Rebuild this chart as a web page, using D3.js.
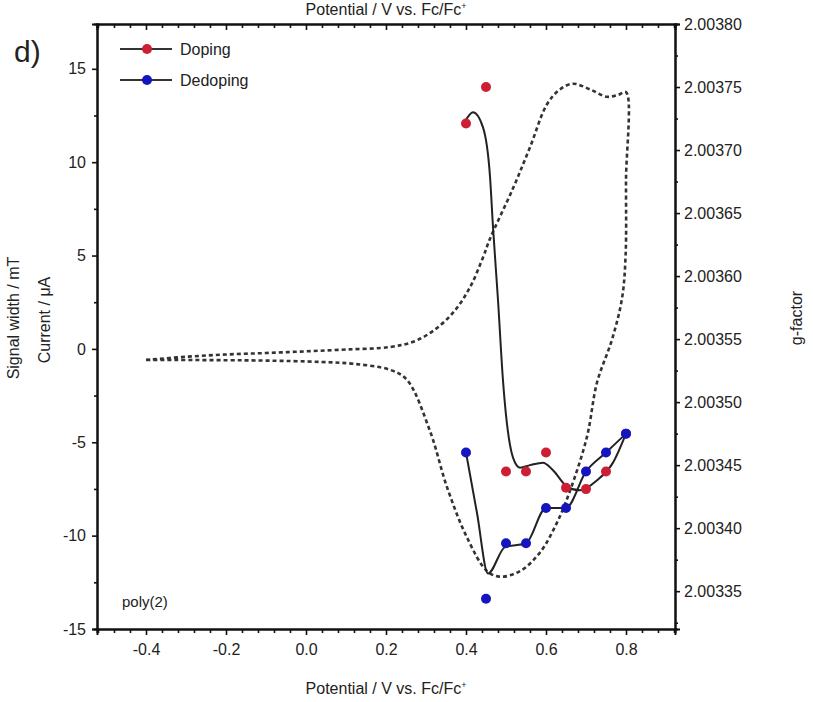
<!DOCTYPE html>
<html><head><meta charset="utf-8">
<script src="https://cdn.jsdelivr.net/npm/d3@7"></script>
<style>
body{margin:0;background:#fff;}
text{font-family:"Liberation Sans",Arial,sans-serif;fill:#222;}
</style></head>
<body><svg id="c" width="813" height="702"></svg>
<script>
// ---- data ----
const potentials = [0.40,0.45,0.50,0.55,0.60,0.65,0.70,0.75,0.80];
const dopingG   = [2.003721,2.003750,2.003445,2.003445,2.003460,2.003432,2.003431,2.003445,2.003475];
const dedopingG = [2.003460,2.003344,2.003388,2.003388,2.003416,2.003416,2.003445,2.003460,2.003475];
// smoothed guide lines
const dopingFitX = [0.40,0.4175,0.4425,0.46,0.4675,0.48,0.4925,0.5175,0.535,0.56,0.5925,0.6175,0.6525,0.685,0.7275,0.7675,0.80];
const dopingFitG = [2.003724,2.003730,2.003718,2.003679,2.003639,2.003581,2.003517,2.003456,2.003448,2.003450,2.003452,2.003446,2.003433,2.003430,2.003438,2.003452,2.003475];
const dedopingFitX = [0.40,0.4275,0.455,0.4975,0.55,0.60,0.65,0.70,0.75,0.80];
const dedopingFitG = [2.003460,2.003412,2.003364,2.003385,2.003388,2.003416,2.003416,2.003445,2.003460,2.003475];
// cyclic voltammogram (current / uA)
const cvPotential = [-0.40,-0.30,-0.20,-0.10,0.00,0.10,0.21,0.27,0.32,0.37,0.41,0.4425,0.46,0.5175,0.56,0.6025,0.635,0.6675,0.71,0.7525,0.78,0.80,
                     0.80,0.799,0.79,0.765,0.7275,0.7025,0.66,0.6275,0.585,0.535,0.485,0.4525,0.4025,0.3525,0.31,0.2525,0.21,0.12,0.04,-0.12,-0.40];
const cvCurrent   = [-0.59,-0.42,-0.30,-0.22,-0.13,-0.03,0.10,0.40,1.0,2.0,3.3,4.9,5.9,8.6,10.8,13.1,13.9,14.2,13.9,13.5,13.6,13.75,
                     9.0,5.0,2.7,0.5,-1.8,-4.7,-7.6,-9.3,-10.9,-11.9,-12.2,-11.9,-10.1,-7.4,-4.4,-1.66,-1.12,-0.8,-0.7,-0.62,-0.59];
const xTicks = [-0.4,-0.2,0.0,0.2,0.4,0.6,0.8];
const yTicks = [-15,-10,-5,0,5,10,15];
const gTicks = [2.00335,2.00340,2.00345,2.00350,2.00355,2.00360,2.00365,2.00370,2.00375,2.00380];

// ---- layout ----
const L=97,R=675,T=24,B=629;
const svg=d3.select("#c");
const x=d3.scaleLinear().domain([-0.5225,0.9225]).range([L,R]);
const y=d3.scaleLinear().domain([-15,17.4]).range([B,T]);
const g=d3.scaleLinear().domain([2.00332,2.00380]).range([B,T]);
const hy=f=>v=>f(v).replace("\u2212","-");

// CV dashed
const cv=cvPotential.map((p,i)=>[p,cvCurrent[i]]);
svg.append("path").attr("d",d3.line().x(d=>x(d[0])).y(d=>y(d[1])).curve(d3.curveCatmullRom.alpha(0.5))(cv))
  .attr("fill","none").attr("stroke","#333").attr("stroke-width",2.6).attr("stroke-dasharray","4,3");

// fit lines
const fitLine=d3.line().x(d=>x(d[0])).y(d=>g(d[1])).curve(d3.curveMonotoneX);
svg.append("path").attr("d",fitLine(dopingFitX.map((p,i)=>[p,dopingFitG[i]])))
  .attr("fill","none").attr("stroke","#222").attr("stroke-width",2);
svg.append("path").attr("d",fitLine(dedopingFitX.map((p,i)=>[p,dedopingFitG[i]])))
  .attr("fill","none").attr("stroke","#222").attr("stroke-width",2);

// points
const red="#cc1f33", blue="#1515c0";
svg.append("g").selectAll("circle").data(potentials).join("circle")
  .attr("cx",d=>x(d)).attr("cy",(d,i)=>g(dopingG[i])).attr("r",5).attr("fill",red);
svg.append("g").selectAll("circle").data(potentials).join("circle")
  .attr("cx",d=>x(d)).attr("cy",(d,i)=>g(dedopingG[i])).attr("r",5).attr("fill",blue);

// frame / axes
const minorX=d3.range(-0.52,0.93,0.04).map(v=>+v.toFixed(2)).filter(v=>!xTicks.some(t=>Math.abs(t-v)<1e-6));
function styleAxis(sel){sel.selectAll(".domain").attr("stroke","#111").attr("stroke-width",2);
  sel.selectAll(".tick line").attr("stroke","#111").attr("stroke-width",1.6);
  sel.selectAll("text").style("font-size","16px").attr("fill","#222");}
// bottom
svg.append("g").attr("transform",`translate(0,${B})`).call(d3.axisBottom(x).tickValues(minorX).tickSize(4).tickFormat("")).call(styleAxis);
svg.append("g").attr("transform",`translate(0,${B})`).call(d3.axisBottom(x).tickValues(xTicks).tickSize(6).tickPadding(9).tickFormat(hy(d3.format(".1f")))).call(styleAxis);
// top
svg.append("g").attr("transform",`translate(0,${T})`).call(d3.axisTop(x).tickValues(minorX).tickSize(-4).tickFormat("")).call(styleAxis);
svg.append("g").attr("transform",`translate(0,${T})`).call(d3.axisTop(x).tickValues(xTicks).tickSize(-6).tickFormat("")).call(styleAxis);
// left
const minorY=d3.range(-12.5,17.4,5);
svg.append("g").attr("transform",`translate(${L},0)`).call(d3.axisLeft(y).tickValues(minorY).tickSize(3).tickFormat("")).call(styleAxis);
svg.append("g").attr("transform",`translate(${L},0)`).call(d3.axisLeft(y).tickValues(yTicks).tickSize(5).tickPadding(6).tickFormat(hy(d3.format("d")))).call(styleAxis);
// right
const minorG=d3.range(2.003325,2.0038,0.00005);
svg.append("g").attr("transform",`translate(${R},0)`).call(d3.axisRight(g).tickValues(minorG).tickSize(3).tickFormat("")).call(styleAxis);
svg.append("g").attr("transform",`translate(${R},0)`).call(d3.axisRight(g).tickValues(gTicks).tickSize(5).tickPadding(4).tickFormat(d3.format(".5f"))).call(styleAxis);

// titles
function fcTitle(yy){
  const t=svg.append("text").attr("x",386).attr("y",yy).attr("text-anchor","middle").style("font-size","16px");
  t.append("tspan").text("Potential / V vs. Fc/Fc");
  t.append("tspan").attr("dy",-6).style("font-size","9px").text("+");
}
fcTitle(694);
fcTitle(15);
svg.append("text").attr("transform","translate(19,318) rotate(-90)").attr("text-anchor","middle").style("font-size","16px").text("Signal width / mT");
svg.append("text").attr("transform","translate(50,320) rotate(-90)").attr("text-anchor","middle").style("font-size","16px").text("Current / \u03bcA");
svg.append("text").attr("transform","translate(802,318) rotate(-90)").attr("text-anchor","middle").style("font-size","16px").text("g-factor");
svg.append("text").attr("x",14).attr("y",62).style("font-size","30px").text("d)");
svg.append("text").attr("x",122).attr("y",607).style("font-size","15px").text("poly(2)");

// legend
const leg=[{name:"Doping",c:red,yy:49},{name:"Dedoping",c:blue,yy:80}];
leg.forEach(l=>{
  svg.append("line").attr("x1",120).attr("x2",172).attr("y1",l.yy).attr("y2",l.yy).attr("stroke","#333").attr("stroke-width",2);
  svg.append("circle").attr("cx",147).attr("cy",l.yy).attr("r",5).attr("fill",l.c);
  svg.append("text").attr("x",180).attr("y",l.yy+6).style("font-size","16px").text(l.name);
});
</script></body></html>
